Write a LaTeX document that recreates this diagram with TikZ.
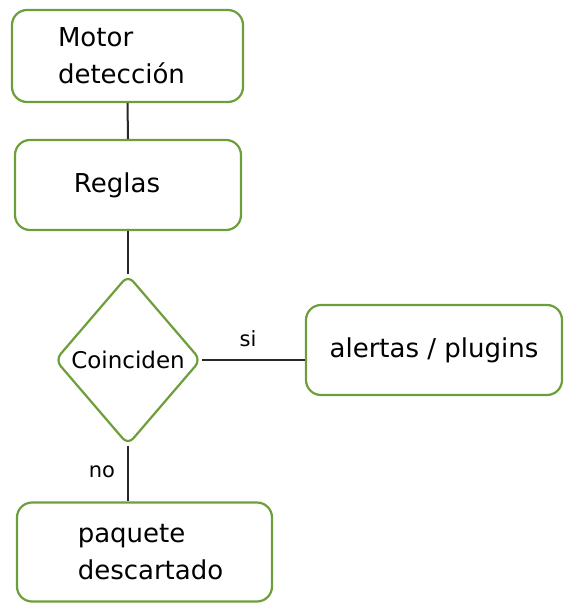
\documentclass[tikz,border=0pt]{standalone}
\usepackage{fontspec}
\setmainfont{DejaVu Sans}
\usetikzlibrary{shapes.geometric}
\definecolor{sketchgreen}{RGB}{108,158,58}
\definecolor{inkgray}{RGB}{40,40,40}
\newcommand{\padx}[1]{\rule{#1}{0pt}}
\tikzset{
  box/.style={draw=sketchgreen, line width=2.2pt, rounded corners=15pt, fill=white,
    align=left, font=\fontsize{26}{37}\selectfont, text=black, inner sep=0pt},
  decision/.style={draw=sketchgreen, line width=2.2pt, diamond, fill=white,
    minimum width=146pt, minimum height=170pt, inner sep=0pt, rounded corners=8pt,
    font=\fontsize{23}{28}\selectfont},
  link/.style={draw=inkgray, line width=2pt},
  lbl/.style={font=\fontsize{21}{24}\selectfont, text=black, inner sep=0pt}
}
\begin{document}
\begin{tikzpicture}[x=1pt,y=-1pt]
\useasboundingbox (0,0) rectangle (566,604);
\node[box, minimum width=231pt, minimum height=92pt] (motor) at (127.5,56) {Motor\\detección\padx{12pt}};
\node[box, minimum width=226pt, minimum height=90pt] (reglas) at (128,185) {Reglas\padx{22pt}};
\node[decision] (coin) at (128,360) {Coinciden};
\node[box, minimum width=256pt, minimum height=90pt] (alert) at (434,350) {alertas / plugins};
\node[box, minimum width=255pt, minimum height=99pt] (paq) at (144.5,552) {\padx{12pt}paquete\\\padx{12pt}descartado};
\draw[link] (motor.south) -- (reglas.north);
\draw[link] (reglas.south) -- (coin.north);
\draw[link] (coin.east) -- (alert.west |- coin.east);
\draw[link] (coin.south) -- (paq.north -| coin.south);
\node[lbl] (si) at (248,339) {si};
\node[lbl] (no) at (102,472) {no};
\end{tikzpicture}
\end{document}
